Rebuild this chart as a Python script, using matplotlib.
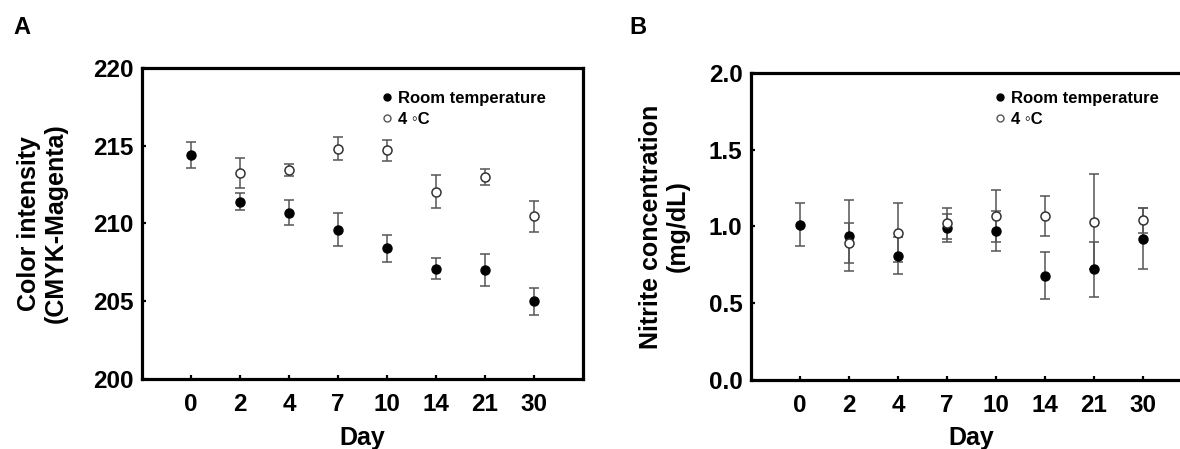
import matplotlib
matplotlib.use("Agg")
import matplotlib.pyplot as plt
import numpy as np
from matplotlib.lines import Line2D

plt.rcParams["font.family"] = ["Liberation Sans", "DejaVu Sans"]
plt.rcParams["font.weight"] = "bold"

days = ["0", "2", "4", "7", "10", "14", "21", "30"]

# A: colour intensity
room_a = [214.4, 211.4, 210.7, 209.6, 208.4, 207.1, 207.0, 205.0]
room_a_err = [0.85, 0.55, 0.8, 1.05, 0.85, 0.7, 1.05, 0.87]
cold_a = [np.nan, 213.25, 213.45, 214.8, 214.7, 212.05, 213.0, 210.45]
cold_a_err = [np.nan, 0.98, 0.37, 0.73, 0.68, 1.05, 0.52, 0.99]

# B: nitrite concentration
room_b = [1.01, 0.94, 0.81, 0.99, 0.97, 0.68, 0.72, 0.92]
room_b_err = [0.14, 0.23, 0.12, 0.09, 0.13, 0.153, 0.18, 0.2]
cold_b = [np.nan, 0.89, 0.96, 1.02, 1.07, 1.07, 1.03, 1.04]
cold_b_err = [np.nan, 0.13, 0.19, 0.10, 0.17, 0.13, 0.31, 0.08]

ERR = "#555555"
x = np.arange(len(days))

fig = plt.figure(figsize=(11.8, 4.49), dpi=100)
axA = fig.add_axes([0.1203, 0.1559, 0.3737, 0.6927])
axB = fig.add_axes([0.6364, 0.1537, 0.3737, 0.6837])


def panel(ax, room, room_err, cold, cold_err, ylim, yticks, ylabel, ylab_x, leg_xy):
    # error bars first, markers on top
    for vals, err in [(room, room_err), (cold, cold_err)]:
        ax.errorbar(x, vals, yerr=err, fmt="none", ecolor=ERR, elinewidth=1.1,
                    capsize=3.5, capthick=1.1, zorder=2)
    ax.plot(x, room, ls="none", marker="o", color="black", ms=6.5, zorder=3)
    ax.plot(x, cold, ls="none", marker="o", mfc="white", mec="#333333", mew=1.1, ms=6.5, zorder=4)
    ax.set_xlim(-1, 8)
    ax.set_ylim(*ylim)
    ax.set_xticks(x)
    ax.set_xticklabels(days)
    ax.set_yticks(yticks)
    for s in ax.spines.values():
        s.set_linewidth(2.3)
    ax.tick_params(axis="both", direction="in", length=3, width=1.6, labelsize=17.5)
    ax.tick_params(axis="x", pad=10)
    ax.tick_params(axis="y", pad=6)
    ax.set_xlabel("Day", fontsize=18, fontweight="bold", va="center")
    ax.xaxis.set_label_coords(0.5, -0.19)
    ax.set_ylabel(ylabel, fontsize=18, fontweight="bold", linespacing=1.15)
    ax.yaxis.set_label_coords(ylab_x, 0.5)
    handles = [Line2D([], [], ls="none", marker="o", color="black", ms=5),
               Line2D([], [], ls="none", marker="o", mfc="white", mec="#555555", mew=1.0, ms=5)]
    ax.legend(handles, ["Room temperature", "4 \u25e6C"], loc="upper left", bbox_to_anchor=leg_xy,
              frameon=False, handlelength=0.6, handletextpad=0.35,
              labelspacing=0.38, borderpad=0, borderaxespad=0,
              prop={"weight": "bold", "size": 12})


panel(axA, room_a, room_a_err, cold_a, cold_a_err, (200, 220), [200, 205, 210, 215, 220],
      "Color intensity\n(CMYK-Magenta)", -0.168, (0.545, 0.927))
panel(axB, room_b, room_b_err, cold_b, cold_b_err, (0, 2.0), [0.0, 0.5, 1.0, 1.5, 2.0],
      "Nitrite concentration\n(mg/dL)", -0.138, (0.553, 0.942))
axB.set_yticklabels(["0.0", "0.5", "1.0", "1.5", "2.0"])

fig.text(22 / 1180, 1 - 27 / 449, "A", fontsize=17, fontweight="bold", ha="center", va="center")
fig.text(638 / 1180, 1 - 27 / 449, "B", fontsize=17, fontweight="bold", ha="center", va="center")

fig.savefig("out.png", dpi=100)
